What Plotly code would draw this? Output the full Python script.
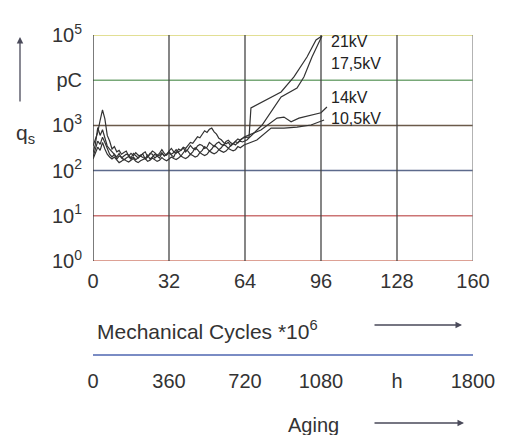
import math
import plotly.graph_objects as go

# ---------------- data ----------------
cycle_ticks = [0, 32, 64, 96, 128, 160]
hour_ticks = [0, 360, 720, 1080, 1440, 1800]
hour_text = ["0", "360", "720", "1080", "h", "1800"]
q_tickvals = [1, 10, 100, 1000, 10000, 100000]
q_ticktext = ["10<sup>0</sup>", "10<sup>1</sup>", "10<sup>2</sup>",
              "10<sup>3</sup>", "pC", "10<sup>5</sup>"]
hgrid_colors = ["#d28272", "#cc7474", "#5c6a8c", "#6b5a4a", "#78a878", "#d8d470"]
vgrid_colors = ["#333333", "#444444", "#444444", "#444444", "#444444", "#8a8a8a"]

x_21 = list(range(0, 65)) + [65.7, 66.5, 79.2, 84.6, 90.1, 93.9, 96.4]
q_21 = [350, 500, 700, 1300, 2200, 1400, 600, 450, 300, 340, 260, 280, 230, 250,
        270, 210, 240, 215, 250, 220, 210, 240, 260, 200, 230, 270, 250, 220, 240,
        290, 240, 220, 270, 310, 260, 240, 300, 280, 320, 260, 300, 360, 310, 290,
        350, 380, 360, 310, 330, 420, 380, 340, 400, 430, 380, 360, 440, 470, 410,
        390, 450, 500, 470, 520, 540,
        550, 2430, 5500, 11800, 32600, 77600, 95000]

x_175 = list(range(0, 64)) + [64.8, 71.2, 79.2, 85.9, 88.8, 92.2, 96.4]
q_175 = [250, 380, 900, 600, 800, 500, 350, 300, 260, 230, 200, 240, 190, 210,
         230, 220, 190, 240, 210, 190, 220, 230, 180, 200, 240, 230, 190, 210, 220,
         250, 210, 230, 250, 220, 200, 260, 250, 210, 240, 290, 270, 230, 260, 320,
         290, 250, 280, 340, 310, 270, 300, 360, 330, 290, 320, 380, 350, 310, 360,
         400, 370, 420, 450, 430,
         475, 1020, 4260, 6700, 11800, 32600, 95000]

x_14 = list(range(0, 64)) + [63.6, 70.7, 77.5, 80.4, 83.4, 86.7, 91.8, 96.0, 98.5]
q_14 = [200, 300, 450, 380, 550, 420, 300, 230, 200, 230, 180, 210, 200, 170,
        190, 205, 180, 200, 175, 190, 210, 195, 185, 220, 180, 200, 230, 210, 190,
        240, 215, 230, 260, 230, 250, 290, 260, 280, 330, 310, 360, 420, 400, 480,
        560, 530, 650, 760, 700, 820, 870, 720, 640, 520, 480, 420, 390, 420, 350,
        400, 440, 410, 480, 520,
        550, 790, 1450, 1530, 1200, 1450, 1700, 1900, 2560]

x_105 = list(range(0, 64)) + [63.6, 69, 75, 80.4, 85.9, 91.8, 97.3]
q_105 = [180, 250, 330, 280, 420, 300, 230, 200, 180, 200, 170, 150, 160, 180,
         165, 155, 170, 185, 160, 150, 165, 175, 185, 160, 170, 190, 175, 160, 170,
         195, 175, 165, 180, 200, 185, 175, 190, 210, 195, 185, 200, 230, 215, 200,
         210, 250, 230, 215, 230, 270, 250, 235, 250, 290, 270, 255, 270, 310, 290,
         275, 290, 340, 320, 350,
         370, 475, 870, 870, 920, 1020, 1320]

series_labels = ["21kV", "17,5kV", "14kV", "10,5kV"]
label_x = [99.8, 99.8, 99.8, 99.8]
label_q = [72000, 23000, 4200, 1400]

# ---------------- figure ----------------
W, H = 507, 435
L, R, T, B = 93, 34, 35, 80
PW, PH = W - L - R, H - T - B
FONT = "Liberation Sans, Arial, sans-serif"
TXT = "#333333"


def px(xp):
    return (xp - L) / PW


def py(yp):
    return (H - B - yp) / PH


fig = go.Figure()

# horizontal grid lines (each decade has its own colour in the original)
for qv, col in zip(q_tickvals, hgrid_colors):
    fig.add_trace(go.Scatter(x=[cycle_ticks[0], cycle_ticks[-1]], y=[qv, qv],
                             mode="lines", line=dict(color=col, width=1.5),
                             hoverinfo="skip", showlegend=False))
# vertical grid lines
for xv, col in zip(cycle_ticks, vgrid_colors):
    fig.add_trace(go.Scatter(x=[xv, xv], y=[q_tickvals[0], q_tickvals[-1]],
                             mode="lines", line=dict(color=col, width=1.3),
                             hoverinfo="skip", showlegend=False))

for xs, qs in [(x_21, q_21), (x_175, q_175), (x_14, q_14), (x_105, q_105)]:
    fig.add_trace(go.Scatter(x=xs, y=qs, mode="lines",
                             line=dict(color="#333333", width=1.2),
                             showlegend=False))

# invisible trace carrying the ageing-hours axis
fig.add_trace(go.Scatter(x=[hour_ticks[0], hour_ticks[-1]], y=[1, 1], xaxis="x2",
                         mode="lines", line=dict(width=0), opacity=0,
                         hoverinfo="skip", showlegend=False))

for name, lx, lq in zip(series_labels, label_x, label_q):
    fig.add_annotation(x=lx, y=math.log10(lq), xref="x", yref="y", text=name,
                       showarrow=False, xanchor="left", yanchor="middle",
                       borderpad=0,
                       font=dict(family=FONT, size=16, color="#222222"))

# axis titles and arrows
fig.add_annotation(x=px(95), y=py(330), xref="paper", yref="paper",
                   text="Mechanical Cycles *10<sup>6</sup>", showarrow=False,
                   xanchor="left", yanchor="middle",
                   font=dict(family=FONT, size=21, color=TXT))
fig.add_annotation(x=px(313), y=py(425), xref="paper", yref="paper",
                   text="Aging", showarrow=False, xanchor="center", yanchor="middle",
                   font=dict(family=FONT, size=20, color=TXT))
fig.add_annotation(x=px(25), y=py(134), xref="paper", yref="paper",
                   text="q<sub>s</sub>", showarrow=False, xanchor="center",
                   yanchor="middle", font=dict(family=FONT, size=21, color=TXT))
for hx, hy, ax, ay in [(462, 325, -89, 0), (464, 423, -91, 0), (20, 37, 0, 66)]:
    fig.add_annotation(x=px(hx), y=py(hy), xref="paper", yref="paper", text="",
                       showarrow=True, ax=ax, ay=ay, arrowhead=2, arrowsize=1,
                       arrowwidth=1.3, arrowcolor="#4a4a5a")

fig.update_layout(
    width=W, height=H,
    margin=dict(l=L, r=R, t=T, b=B, pad=0),
    paper_bgcolor="white", plot_bgcolor="white",
    showlegend=False,
    xaxis=dict(range=[0, 160], tickvals=cycle_ticks, showgrid=False,
               zeroline=False, showline=False, ticks="", anchor="y",
               ticklabelstandoff=6,
               tickfont=dict(family=FONT, size=20, color=TXT)),
    xaxis2=dict(range=[0, 1800], tickvals=hour_ticks, ticktext=hour_text,
                overlaying="x", anchor="free", position=0, side="bottom",
                showgrid=False, zeroline=False, showline=True,
                linecolor="#7a8cc4", linewidth=2, ticks="",
                ticklabelstandoff=8,
                tickfont=dict(family=FONT, size=20, color=TXT)),
    yaxis=dict(type="log", range=[0, 5], domain=[py(261), 1],
               tickvals=q_tickvals, ticktext=q_ticktext, showgrid=False,
               zeroline=False, showline=False, ticks="", ticklabelstandoff=10,
               tickfont=dict(family=FONT, size=20, color=TXT)),
)

fig.write_html("out.html")
